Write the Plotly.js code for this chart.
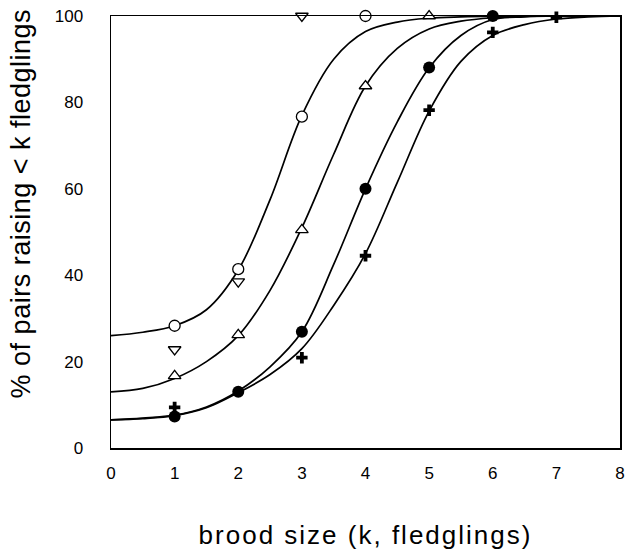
<!DOCTYPE html>
<html>
<head>
<meta charset="utf-8">
<script src="https://cdn.plot.ly/plotly-3.0.1.min.js"></script>
<style>
  html, body { margin: 0; padding: 0; background: #fff; }
  #chart { width: 628px; height: 552px; }
  .xtitle { letter-spacing: 2px; }
  .annotation-text { letter-spacing: 0.5px; }
</style>
</head>
<body>
<div id="chart"></div>
<script>
// ---- data ----
// observed points
const circleX = [1, 2, 3, 4];
const circleY = [28.3, 41.4, 76.7, 100];

const triDownX = [1, 2, 3];
const triDownY = [22.8, 38.5, 100];

const triUpX = [1, 2, 3, 4, 5];
const triUpY = [16.7, 26.2, 50.5, 83.8, 100];

const filledX = [1, 2, 3, 4, 5, 6];
const filledY = [7.3, 13.0, 26.9, 60.0, 88.1, 100];

const plusX = [1, 3, 4, 5, 6, 7];
const plusY = [9.4, 20.9, 44.5, 78.2, 96.2, 99.7];

// fitted curves, every 0.5
const curveX = [0, 0.5, 1, 1.5, 2, 2.5, 3, 3.5, 4, 4.5, 5, 5.5, 6, 6.5, 7, 7.5, 8];
const curve1Y = [26.0, 26.8, 28.3, 32.0, 41.2, 57.5, 77.0, 90.0, 96.4, 98.6, 99.5, 99.8, 99.95, 100, 100, 100, 100];
const curve2Y = [13.0, 13.8, 16.1, 20.0, 26.0, 36.5, 51.0, 68.0, 83.8, 92.5, 97.0, 98.8, 99.6, 99.9, 100, 100, 100];
const curve3Y = [6.5, 6.9, 7.6, 9.5, 13.2, 18.8, 26.9, 42.5, 60.0, 75.5, 88.0, 95.5, 99.2, 99.8, 100, 100, 100];
const curve4Y = [6.5, 6.8, 7.5, 9.3, 12.8, 17.0, 23.0, 33.0, 45.0, 61.5, 78.0, 89.5, 95.5, 98.0, 99.3, 99.8, 100];

const xTicks = [0, 1, 2, 3, 4, 5, 6, 7, 8];
const yTicks = [0, 20, 40, 60, 80, 100];

const xTitle = 'brood size (k, fledglings)';
const yTitle = '% of pairs raising &lt; k fledglings';

// ---- traces ----
const FONT = 'Liberation Sans, Arial, Helvetica, sans-serif';
const lineStyle = { color: '#000', width: 1.7, shape: 'spline', smoothing: 1 };

function curve(x, y) {
  return { x: x, y: y, mode: 'lines', line: lineStyle, hoverinfo: 'skip', showlegend: false, cliponaxis: true };
}
function pts(x, y, symbol, size, fill, lw) {
  return {
    x: x, y: y, mode: 'markers', showlegend: false, cliponaxis: false,
    marker: { symbol: symbol, size: size, color: fill, line: { color: '#000', width: lw } }
  };
}

const data = [
  curve(curveX, curve1Y),
  curve(curveX, curve2Y),
  curve(curveX, curve3Y),
  curve(curveX, curve4Y),
  pts(circleX, circleY, 'circle', 11, '#fff', 1.3),
  pts(triDownX, triDownY, 'triangle-down', 11, '#fff', 1.3),
  pts(triUpX, triUpY, 'triangle-up', 11, '#fff', 1.3),
  pts(filledX, filledY, 'circle', 12, '#000', 0),
  pts(plusX, plusY, 'cross', 9.5, '#000', 0)
];

const layout = {
  width: 628, height: 552,
  margin: { l: 111, r: 8, t: 16, b: 104 },
  paper_bgcolor: '#fff', plot_bgcolor: '#fff',
  font: { family: FONT, color: '#000', size: 17 },
  showlegend: false,
  xaxis: {
    range: [0, 8], tickvals: xTicks, ticktext: xTicks.map(String),
    showgrid: false, zeroline: false,
    showline: true, mirror: true, linecolor: '#000', linewidth: 1.5,
    ticks: 'outside', ticklen: 9, tickcolor: 'rgba(0,0,0,0)',
    tickfont: { family: FONT, size: 17, color: '#000' },
    title: { text: xTitle, font: { family: FONT, size: 26, color: '#000' }, standoff: 44 },
    automargin: false
  },
  yaxis: {
    range: [0, 100], tickvals: yTicks, ticktext: yTicks.map(String),
    showgrid: false, zeroline: false,
    showline: true, mirror: true, linecolor: '#000', linewidth: 1.5,
    ticks: 'outside', ticklen: 23, tickcolor: 'rgba(0,0,0,0)',
    tickfont: { family: FONT, size: 17, color: '#000' },
    automargin: false
  },
  annotations: [{
    text: yTitle, xref: 'paper', yref: 'paper',
    x: -0.175, y: 0.566, xanchor: 'center', yanchor: 'middle',
    textangle: -90, showarrow: false,
    font: { family: FONT, size: 27, color: '#000' }
  }]
};

Plotly.newPlot('chart', data, layout, { displayModeBar: false, staticPlot: true });
</script>
</body>
</html>
